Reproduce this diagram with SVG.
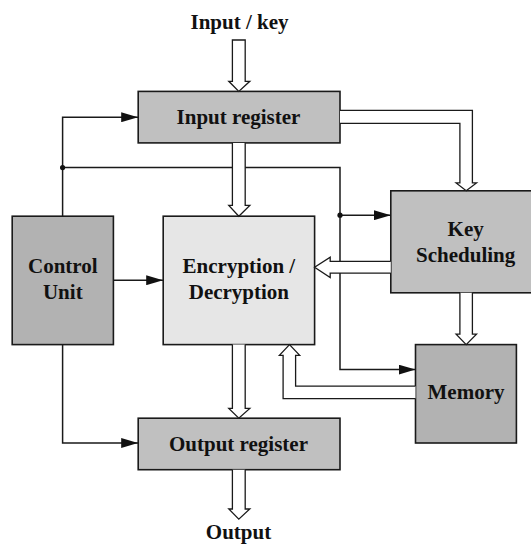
<svg xmlns="http://www.w3.org/2000/svg" width="531" height="544" viewBox="0 0 531 544">
<defs>
<style>
.box{stroke:#1a1a1a;stroke-width:1.6}
.reg{fill:#c0c0c0}
.dark{fill:#b2b2b2}
.light{fill:#e6e6e6}
.t{font-family:"Liberation Serif","Times New Roman",serif;font-weight:bold;font-size:21px;fill:#111;text-anchor:middle}
.ln{fill:none;stroke:#1a1a1a;stroke-width:1.5}
.bus{fill:#fff;stroke:#1a1a1a;stroke-width:1.3;stroke-linejoin:miter}
</style>
<marker id="ah" markerWidth="17" markerHeight="10" refX="17" refY="5" orient="auto" markerUnits="userSpaceOnUse">
<path d="M0,0 L17,5 L0,10 z" fill="#111"/>
</marker>
</defs>
<rect width="531" height="544" fill="#fff"/>

<g id="input-label"><text class="t" x="239.5" y="29">Input / key</text></g>
<g id="output-label"><text class="t" x="238.5" y="539">Output</text></g>

<g id="input-register">
<rect class="box reg" x="138.2" y="91.4" width="201.8" height="51.5"/>
<text class="t" x="238.5" y="124">Input register</text>
</g>
<g id="control-unit">
<rect class="box dark" x="12.2" y="216.2" width="101.2" height="128.4"/>
<text class="t" x="62.8" y="273">Control</text>
<text class="t" x="62.8" y="299">Unit</text>
</g>
<g id="encryption">
<rect class="box light" x="163.2" y="216.2" width="151.4" height="128.4"/>
<text class="t" x="238.9" y="273">Encryption /</text>
<text class="t" x="238.9" y="299">Decryption</text>
</g>
<g id="key-scheduling">
<rect class="box reg" x="390.8" y="190.8" width="145" height="102"/>
<text class="t" x="465.7" y="236">Key</text>
<text class="t" x="465.7" y="261.5">Scheduling</text>
</g>
<g id="memory">
<rect class="box dark" x="415.5" y="344.6" width="100.9" height="98.4"/>
<text class="t" x="466" y="399">Memory</text>
</g>
<g id="output-register">
<rect class="box reg" x="138.2" y="418.2" width="201.8" height="51.5"/>
<text class="t" x="238.5" y="451">Output register</text>
</g>

<g id="connectors">
<path class="ln" d="M62.6,216.2 V117.2 H138.2" marker-end="url(#ah)"/>
<path class="ln" d="M62.6,344.6 V443 H138.2" marker-end="url(#ah)"/>
<path class="ln" d="M113.4,280.2 H163.2" marker-end="url(#ah)"/>
<path class="ln" d="M62.6,167.6 H340 V369.6 H415.5" marker-end="url(#ah)"/>
<path class="ln" d="M340,215.2 H390.8" marker-end="url(#ah)"/>
<circle cx="62.6" cy="167.6" r="2.6" fill="#111"/>
<circle cx="340" cy="215.2" r="2.6" fill="#111"/>
<path class="bus" d="M232.4,40 H245.2 V81.3 H249.8 L238.8,91.4 L228.8,81.3 H232.4 Z"/>
<path class="bus" d="M232.4,142.9 V205.4 H228.8 L238.8,216.2 L249.8,205.4 H245.2 V142.9"/>
<path class="bus" d="M232.4,344.6 V408.4 H228.8 L238.8,418.2 L249.8,408.4 H245.2 V344.6"/>
<path class="bus" d="M232.4,469.7 V509 H228.8 L238.8,519.2 L249.8,509 H245.2 V469.7"/>
<path class="bus" d="M340,123.3 H459.9 V182.9 H456.1 L466.2,190.8 L476.5,182.9 H472.4 V110.4 H340"/>
<path class="bus" d="M459.9,292.8 V334.1 H456.1 L466.2,344.6 L476.5,334.1 H472.4 V292.8"/>
<path class="bus" d="M390.8,261.3 H330.2 V257.2 L314.6,267.3 L330.2,277.5 V273.1 H390.8"/>
<path class="bus" d="M415.5,398.6 H283.1 V355.4 H279.4 L289.5,344.6 L299.7,355.4 H295.6 V386.1 H415.5"/>
</g>
</svg>
